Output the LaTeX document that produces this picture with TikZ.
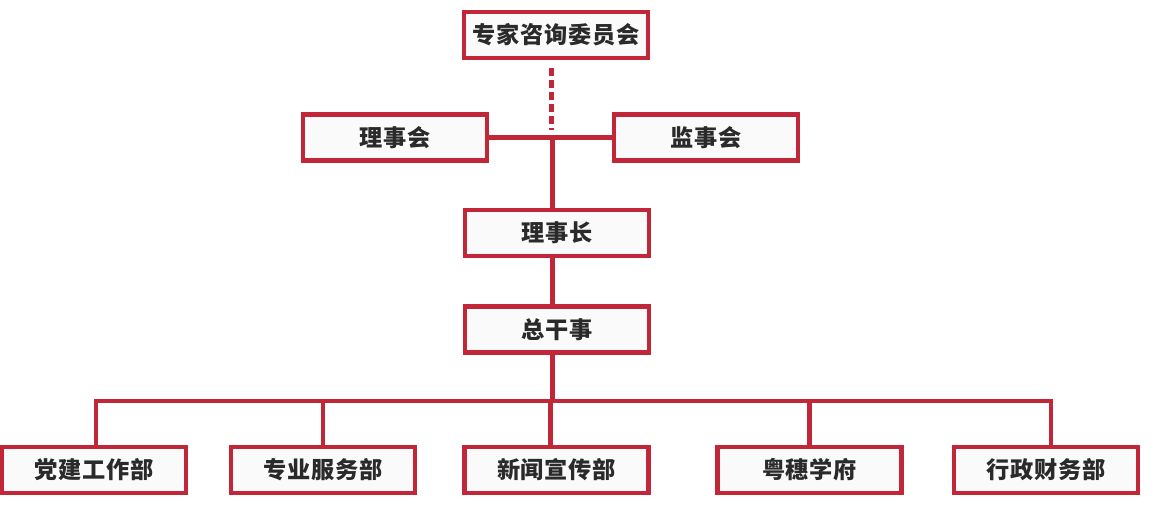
\documentclass[tikz,border=0pt]{standalone}
\usepackage{fontspec}
\usepackage{tikz}
\usetikzlibrary{positioning}
\newfontfamily\cjk[LetterSpace=3]{Noto Sans CJK SC}
\definecolor{orgred}{RGB}{193,39,57}
\definecolor{orgtext}{RGB}{42,42,42}

\begin{document}
\begin{tikzpicture}[x=0.025cm, y=-0.025cm,
    unit/.style={draw=orgred, line width=3.2pt, fill=white!98!black,
      minimum width=4.61cm, minimum height=1.14cm, inner sep=0pt,
      text=orgtext, font=\cjk\bfseries\fontsize{16.5pt}{19pt}\selectfont},
    link/.style={draw=orgred, line width=3.2pt}]
    \useasboundingbox (0,0) rectangle (1175,515);

    % Top units
    \node[unit] (expert) at (556,35) {专家咨询委员会};
    \node[unit] (board) at (395,137.5) {理事会};
    \node[unit] (super) at (706,137.5) {监事会};
    \node[unit] (chair) at (557,233) {理事长};
    \node[unit] (secgen) at (557,329.5) {总干事};

    % Departments
    \foreach \i/\x/\name in {1/94/党建工作部, 2/323/专业服务部, 3/556.5/新闻宣传部, 4/809.5/粤穗学府, 5/1046/行政财务部} {
      \node[unit] (dept\i) at (\x,470) {\name};
    }

    % Connectors
    \draw[link] (board.east) -- (super.west);
    \draw[link, dashed, dash pattern=on 0.2cm off 0.1cm, shorten <=0.2cm, shorten >=0.2cm] ([xshift=-0.11cm]expert.south) -- ([xshift=-0.11cm]expert.south |- board.east);
    \draw[link] ([xshift=-0.11cm]chair.north) -- ([xshift=-0.11cm]chair.north |- board.east);
    \draw[link] ([xshift=-0.11cm]chair.south) -- ([xshift=-0.11cm]secgen.north);

    \coordinate (bus) at (557,401);
    \draw[link] ([xshift=-0.11cm]secgen.south) -- ([xshift=-0.11cm]secgen.south |- bus);
    \draw[link] ([xshift=0.05cm]dept1.north) -- ([xshift=0.05cm]dept1.north |- bus) -- ([xshift=0.12cm]dept5.north |- bus) -- ([xshift=0.12cm]dept5.north);
    \foreach \i/\dx in {2/0, 3/-0.15, 4/0} {
      \draw[link] ([xshift=\dx cm]dept\i.north) -- ([xshift=\dx cm]dept\i.north |- bus);
    }

\end{tikzpicture}
\end{document}
